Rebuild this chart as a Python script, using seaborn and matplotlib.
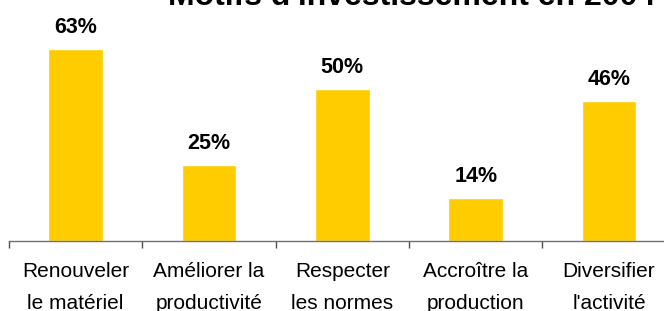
import matplotlib
matplotlib.use("Agg")
import matplotlib.pyplot as plt
import seaborn as sns
import pandas as pd
from matplotlib.ticker import FixedLocator

categories = ["Renouveler\nle matériel", "Améliorer la\nproductivité", "Respecter\nles normes",
              "Accroître la\nproduction", "Diversifier\nl'activité"]
values = [63, 25, 50, 14, 46]
value_labels = ["63%", "25%", "50%", "14%", "46%"]
title = "Motifs d'investissement en 2004"

sns.set_theme(style="white")
plt.rcParams['font.family'] = ['Liberation Sans', 'DejaVu Sans']

df = pd.DataFrame({"cat": categories, "val": values})

fig = plt.figure(figsize=(6.64, 3.11), dpi=100)
ax = fig.add_axes([9/664, 70/311, 666.7/664, 213.5/311])
sns.barplot(data=df, x="cat", y="val", color="#FFCC00", saturation=1, width=0.41, ax=ax)

ax.set_xlim(-0.5, 4.5)
ax.set_ylim(0, 70)
ax.set_xlabel("")
ax.set_ylabel("")
ax.set_yticks([])
for s in ["top", "right", "left"]:
    ax.spines[s].set_visible(False)
ax.spines["bottom"].set_color("#707070")
ax.spines["bottom"].set_linewidth(1.0)

ax.xaxis.set_minor_locator(FixedLocator([i - 0.5 for i in range(len(categories) + 1)]))
ax.tick_params(axis="x", which="minor", bottom=True, length=5, width=1, color="#505050", direction="out")
ax.tick_params(axis="x", which="major", bottom=True, length=0, pad=15, labelsize=15, labelcolor="black")
for lab in ax.get_xticklabels():
    lab.set_linespacing(1.9)

for i, (v, t) in enumerate(zip(values, value_labels)):
    ax.annotate(t, xy=(i, v), xytext=(0, 11.5), textcoords="offset points",
                ha="center", va="baseline", fontsize=15.5, fontweight="bold", color="black")

fig.text(168/664, 1 - 5/311, title, ha="left", va="baseline", fontsize=23,
         fontweight="bold", color="black")

fig.savefig("out.png", dpi=100)
